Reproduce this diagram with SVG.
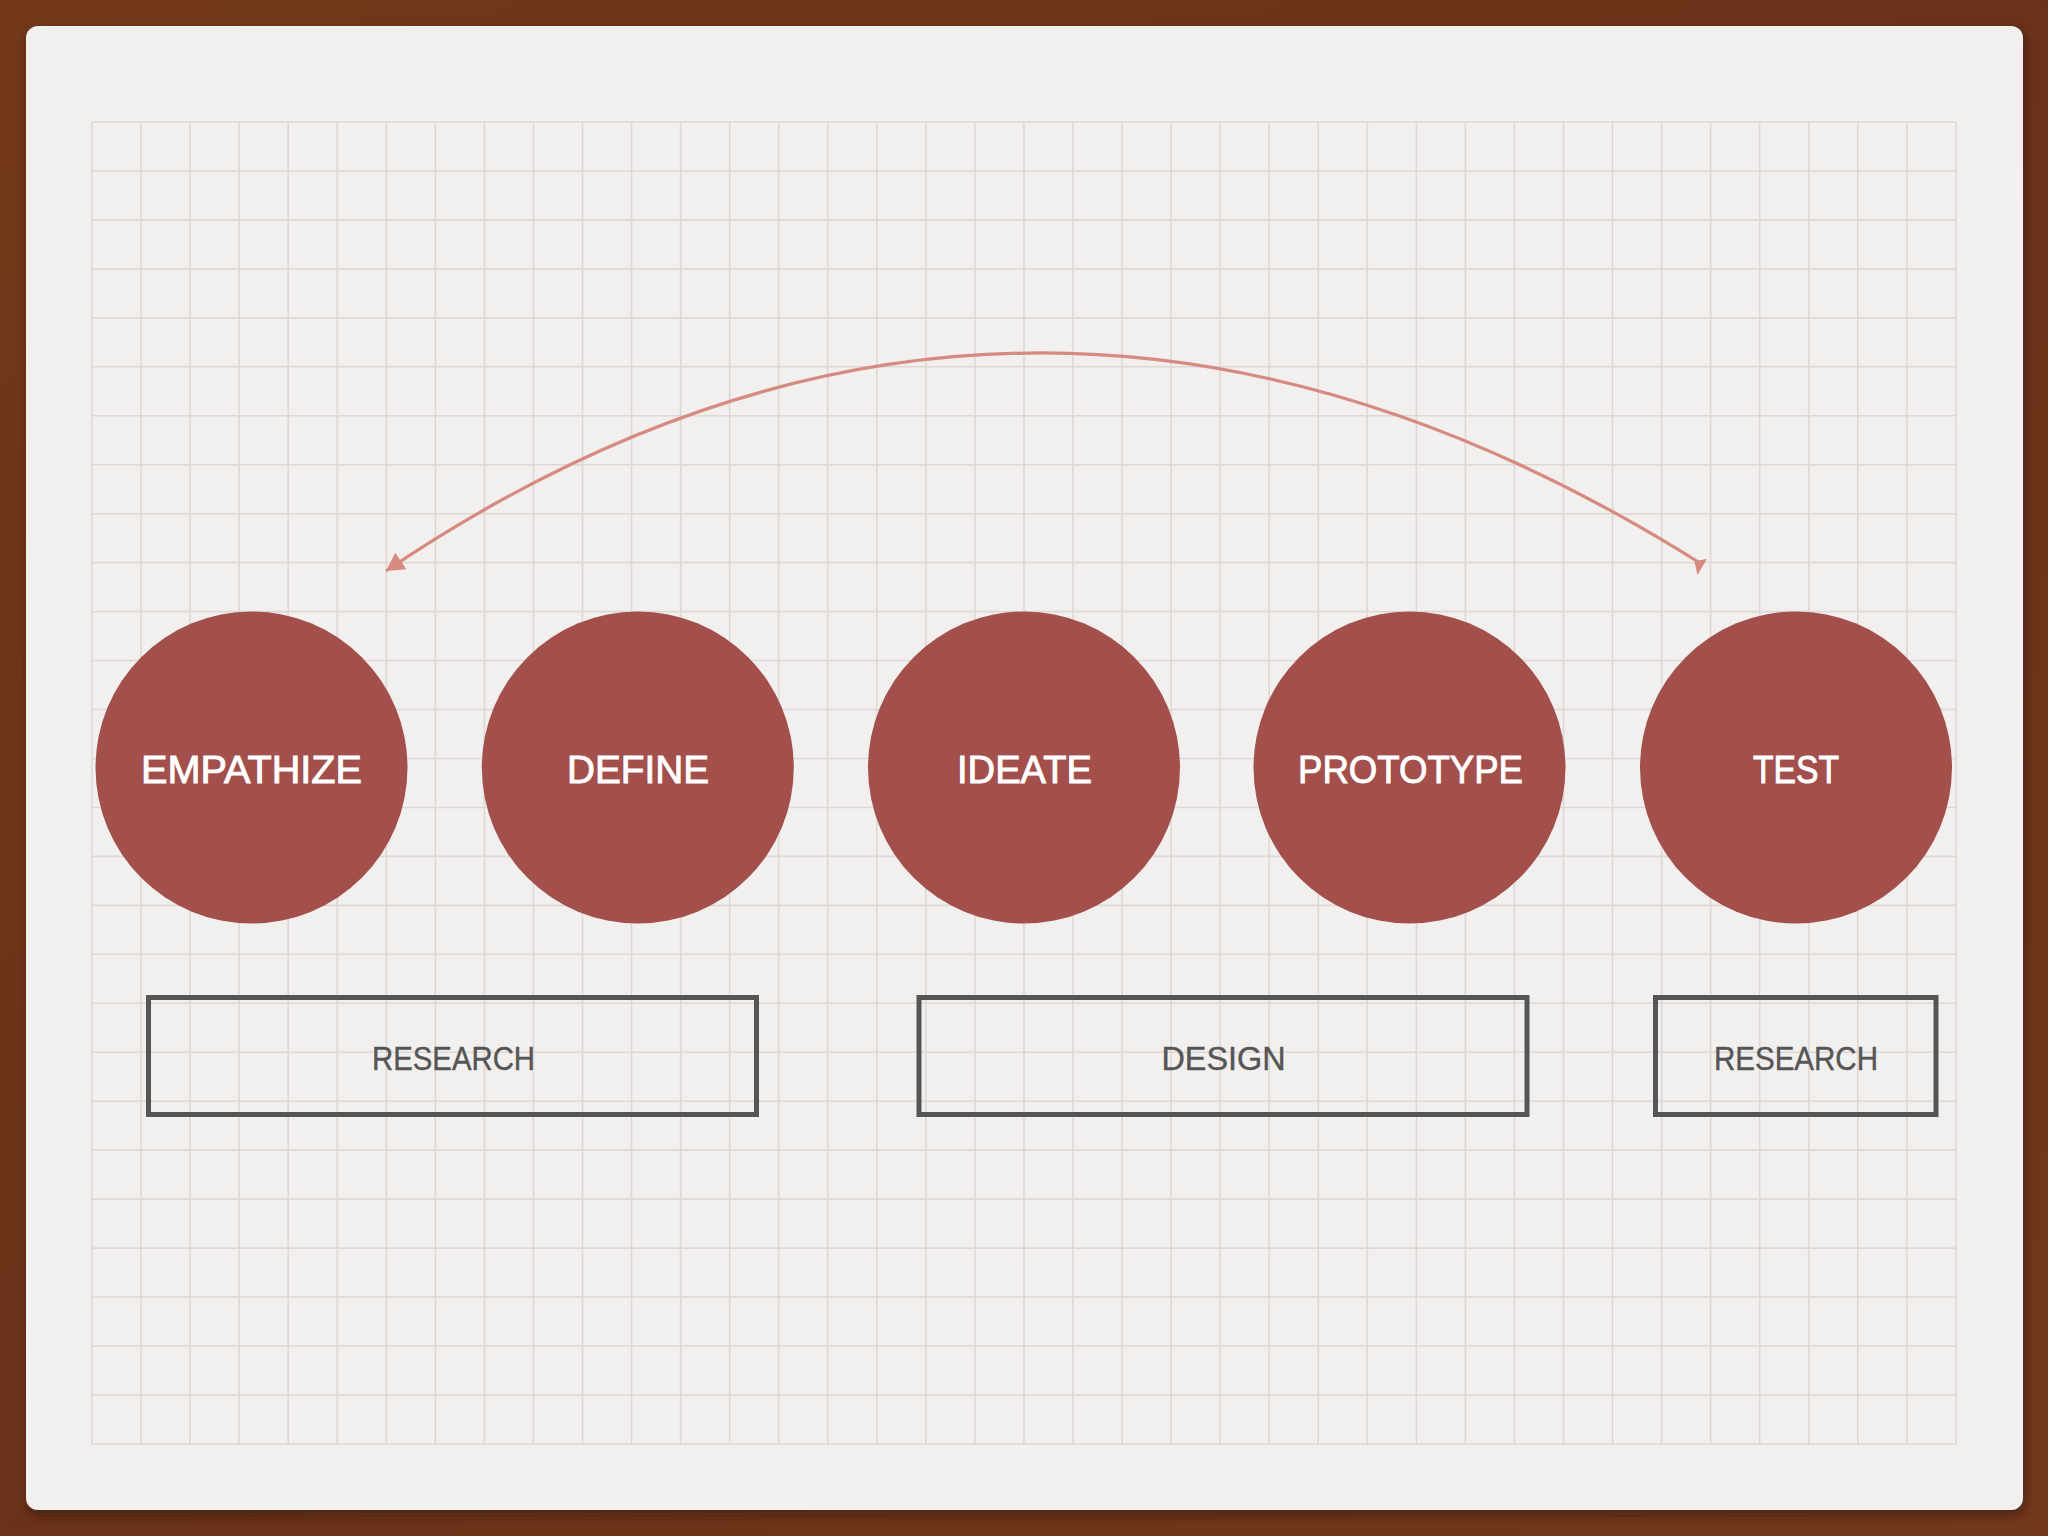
<svg xmlns="http://www.w3.org/2000/svg" width="2048" height="1536" viewBox="0 0 2048 1536">
  <defs>
    <style>
      .grid line { stroke: #ddd8d6; stroke-width: 1.6; }
      .node circle { fill: #a3504c; }
      .node text { fill: #ffffff; stroke: #ffffff; stroke-width: 0.9; font-family: "Liberation Sans", Arial, sans-serif; font-size: 39px; text-anchor: middle; }
      .phase rect { fill: none; stroke: #555555; stroke-width: 5; }
      .phase text { fill: #555555; stroke: #555555; stroke-width: 0.4; font-family: "Liberation Sans", Arial, sans-serif; font-size: 33px; text-anchor: middle; }
      .conn { fill: none; stroke: #d68a80; stroke-width: 3.2; }
    </style>
    <linearGradient id="wood" x1="0" y1="0" x2="1" y2="1">
      <stop offset="0" stop-color="#733819"/>
      <stop offset="0.5" stop-color="#6a3219"/>
      <stop offset="1" stop-color="#73381b"/>
    </linearGradient>
    <filter id="shadow" x="-5%" y="-5%" width="110%" height="110%">
      <feDropShadow dx="2" dy="5" stdDeviation="5" flood-color="#2a1208" flood-opacity="0.55"/>
    </filter>
    <marker id="arrow" markerUnits="userSpaceOnUse" markerWidth="20" markerHeight="22" refX="18" refY="10" orient="auto">
      <path d="M0,0 L18,10 L0,20 z" fill="#d68a80"/>
    </marker>
  </defs>

  <rect x="0" y="0" width="2048" height="1536" fill="url(#wood)"/>
  <rect x="26" y="26" width="1997" height="1484" rx="12" ry="12" fill="#f1f0ee" filter="url(#shadow)"/>

  <g id="grid" class="grid">
    <line x1="92" y1="122" x2="92" y2="1444"/><line x1="141.05" y1="122" x2="141.05" y2="1444"/><line x1="190.1" y1="122" x2="190.1" y2="1444"/><line x1="239.15" y1="122" x2="239.15" y2="1444"/><line x1="288.2" y1="122" x2="288.2" y2="1444"/><line x1="337.25" y1="122" x2="337.25" y2="1444"/><line x1="386.3" y1="122" x2="386.3" y2="1444"/><line x1="435.35" y1="122" x2="435.35" y2="1444"/><line x1="484.4" y1="122" x2="484.4" y2="1444"/><line x1="533.45" y1="122" x2="533.45" y2="1444"/><line x1="582.5" y1="122" x2="582.5" y2="1444"/><line x1="631.55" y1="122" x2="631.55" y2="1444"/><line x1="680.6" y1="122" x2="680.6" y2="1444"/><line x1="729.65" y1="122" x2="729.65" y2="1444"/><line x1="778.7" y1="122" x2="778.7" y2="1444"/><line x1="827.75" y1="122" x2="827.75" y2="1444"/><line x1="876.8" y1="122" x2="876.8" y2="1444"/><line x1="925.85" y1="122" x2="925.85" y2="1444"/><line x1="974.9" y1="122" x2="974.9" y2="1444"/><line x1="1023.95" y1="122" x2="1023.95" y2="1444"/><line x1="1073" y1="122" x2="1073" y2="1444"/><line x1="1122.05" y1="122" x2="1122.05" y2="1444"/><line x1="1171.1" y1="122" x2="1171.1" y2="1444"/><line x1="1220.15" y1="122" x2="1220.15" y2="1444"/><line x1="1269.2" y1="122" x2="1269.2" y2="1444"/><line x1="1318.25" y1="122" x2="1318.25" y2="1444"/><line x1="1367.3" y1="122" x2="1367.3" y2="1444"/><line x1="1416.35" y1="122" x2="1416.35" y2="1444"/><line x1="1465.4" y1="122" x2="1465.4" y2="1444"/><line x1="1514.45" y1="122" x2="1514.45" y2="1444"/><line x1="1563.5" y1="122" x2="1563.5" y2="1444"/><line x1="1612.55" y1="122" x2="1612.55" y2="1444"/><line x1="1661.6" y1="122" x2="1661.6" y2="1444"/><line x1="1710.65" y1="122" x2="1710.65" y2="1444"/><line x1="1759.7" y1="122" x2="1759.7" y2="1444"/><line x1="1808.75" y1="122" x2="1808.75" y2="1444"/><line x1="1857.8" y1="122" x2="1857.8" y2="1444"/><line x1="1906.85" y1="122" x2="1906.85" y2="1444"/><line x1="1955.9" y1="122" x2="1955.9" y2="1444"/>
    <line x1="92" y1="122" x2="1956" y2="122"/><line x1="92" y1="170.96" x2="1956" y2="170.96"/><line x1="92" y1="219.92" x2="1956" y2="219.92"/><line x1="92" y1="268.88" x2="1956" y2="268.88"/><line x1="92" y1="317.84" x2="1956" y2="317.84"/><line x1="92" y1="366.8" x2="1956" y2="366.8"/><line x1="92" y1="415.76" x2="1956" y2="415.76"/><line x1="92" y1="464.72" x2="1956" y2="464.72"/><line x1="92" y1="513.68" x2="1956" y2="513.68"/><line x1="92" y1="562.64" x2="1956" y2="562.64"/><line x1="92" y1="611.6" x2="1956" y2="611.6"/><line x1="92" y1="660.56" x2="1956" y2="660.56"/><line x1="92" y1="709.52" x2="1956" y2="709.52"/><line x1="92" y1="758.48" x2="1956" y2="758.48"/><line x1="92" y1="807.44" x2="1956" y2="807.44"/><line x1="92" y1="856.4" x2="1956" y2="856.4"/><line x1="92" y1="905.36" x2="1956" y2="905.36"/><line x1="92" y1="954.32" x2="1956" y2="954.32"/><line x1="92" y1="1003.28" x2="1956" y2="1003.28"/><line x1="92" y1="1052.24" x2="1956" y2="1052.24"/><line x1="92" y1="1101.2" x2="1956" y2="1101.2"/><line x1="92" y1="1150.16" x2="1956" y2="1150.16"/><line x1="92" y1="1199.12" x2="1956" y2="1199.12"/><line x1="92" y1="1248.08" x2="1956" y2="1248.08"/><line x1="92" y1="1297.04" x2="1956" y2="1297.04"/><line x1="92" y1="1346" x2="1956" y2="1346"/><line x1="92" y1="1394.96" x2="1956" y2="1394.96"/><line x1="92" y1="1444" x2="1956" y2="1444"/>
  </g>

  <g id="connectors">
    <path class="conn" d="M1700,563 Q1025,139 386,571" marker-end="url(#arrow)"/>
    <polygon points="1694.5,561.5 1707,558.8 1697.5,575" fill="#d68a80"/>
  </g>

  <g id="empathize" class="node">
    <circle cx="251.5" cy="767.5" r="156"/>
    <text x="251.5" y="783" textLength="221" lengthAdjust="spacingAndGlyphs">EMPATHIZE</text>
  </g>
  <g id="define" class="node">
    <circle cx="637.8" cy="767.5" r="156"/>
    <text x="638" y="783" textLength="142" lengthAdjust="spacingAndGlyphs">DEFINE</text>
  </g>
  <g id="ideate" class="node">
    <circle cx="1024" cy="767.5" r="156"/>
    <text x="1024.5" y="783" textLength="135" lengthAdjust="spacingAndGlyphs">IDEATE</text>
  </g>
  <g id="prototype" class="node">
    <circle cx="1409.5" cy="767.5" r="156"/>
    <text x="1410.5" y="783" textLength="225" lengthAdjust="spacingAndGlyphs">PROTOTYPE</text>
  </g>
  <g id="test" class="node">
    <circle cx="1796" cy="767.5" r="156"/>
    <text x="1796" y="783" textLength="86" lengthAdjust="spacingAndGlyphs">TEST</text>
  </g>

  <g id="phase-research-1" class="phase">
    <rect x="148.5" y="997.5" width="608" height="117"/>
    <text x="453.5" y="1070" textLength="163" lengthAdjust="spacingAndGlyphs">RESEARCH</text>
  </g>
  <g id="phase-design" class="phase">
    <rect x="919" y="997.5" width="608" height="117"/>
    <text x="1223.5" y="1070" textLength="124" lengthAdjust="spacingAndGlyphs">DESIGN</text>
  </g>
  <g id="phase-research-2" class="phase">
    <rect x="1655.5" y="997.5" width="280.5" height="117"/>
    <text x="1796" y="1070" textLength="164" lengthAdjust="spacingAndGlyphs">RESEARCH</text>
  </g>
</svg>
